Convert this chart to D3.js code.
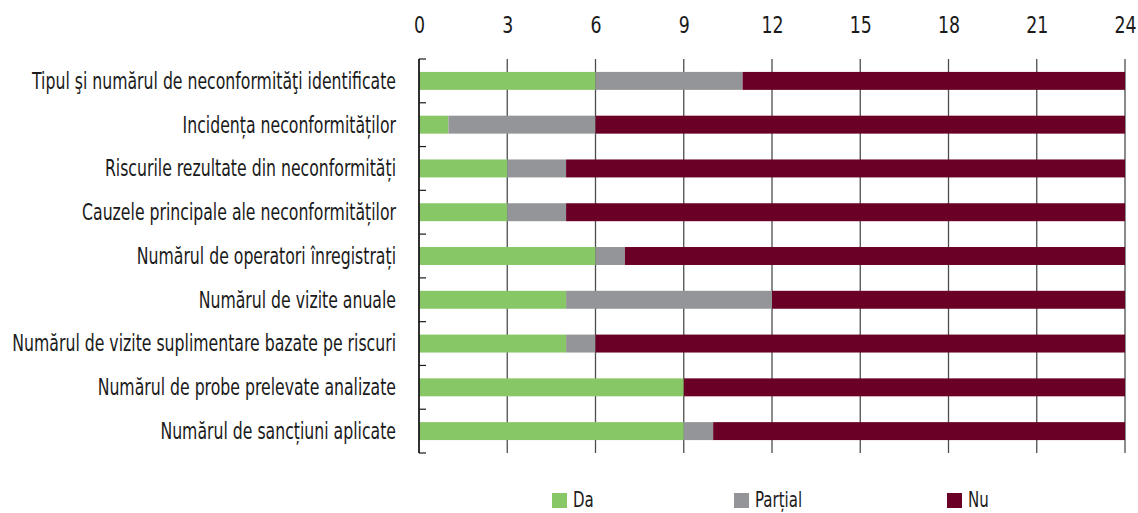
<!DOCTYPE html>
<html>
<head>
<meta charset="utf-8">
<script src="https://cdn.jsdelivr.net/npm/d3@7"></script>
<style>
  body { margin: 0; background: #fff; }
  text { font-family: "DejaVu Sans Condensed", "Liberation Sans Narrow", sans-serif; fill: #1a1a1a; }
</style>
</head>
<body>
<svg id="chart"></svg>
<script>
// date
const categories = [
  "Tipul şi numărul de neconformităţi identificate",
  "Incidența neconformităților",
  "Riscurile rezultate din neconformități",
  "Cauzele principale ale neconformităților",
  "Numărul de operatori înregistrați",
  "Numărul de vizite anuale",
  "Numărul de vizite suplimentare bazate pe riscuri",
  "Numărul de probe prelevate analizate",
  "Numărul de sancțiuni aplicate"
];
const da      = [6, 1, 3, 3, 6, 5, 5, 9, 9];
const partial = [5, 5, 2, 2, 1, 7, 1, 0, 1];
const nu      = [13, 18, 19, 19, 17, 12, 18, 15, 14];
const seriesNames = ["Da", "Parțial", "Nu"];
const tickValues = [0, 3, 6, 9, 12, 15, 18, 21, 24];

const colors = ["#88c766", "#939598", "#6b0026"];

const width = 1138, height = 513;
const margin = { top: 59, right: 13, bottom: 60, left: 419 };
const fontSize = 22.5;

const svg = d3.select('#chart')
  .attr('width', width)
  .attr('height', height);

// fontul original e condensat; calculăm un factor de comprimare orizontală
const probe = svg.append('text')
  .style('font-size', fontSize + 'px')
  .text("Numărul de vizite suplimentare bazate pe riscuri");
const k = 384 / probe.node().getComputedTextLength();
probe.remove();

const rows = categories.map((c, i) => ({ cat: c, Da: da[i], "Parțial": partial[i], Nu: nu[i] }));
const stacked = d3.stack().keys(seriesNames)(rows);

const x = d3.scaleLinear()
  .domain([0, 24])
  .range([margin.left, width - margin.right]);

const y = d3.scaleBand()
  .domain(categories)
  .range([margin.top, height - margin.bottom])
  .paddingInner(0.59)
  .paddingOuter(0.295);

const yBounds = d3.scaleBand()
  .domain(categories)
  .range([margin.top, height - margin.bottom]);

// linii verticale de grilă
svg.append('g')
  .selectAll('line')
  .data(tickValues.slice(1))
  .enter().append('line')
  .attr('x1', d => x(d)).attr('x2', d => x(d))
  .attr('y1', margin.top).attr('y2', height - margin.bottom)
  .attr('stroke', '#4d4d4d')
  .attr('stroke-width', 1.3);

// barele
svg.append('g')
  .selectAll('g')
  .data(stacked)
  .enter().append('g')
  .attr('fill', (d, i) => colors[i])
  .selectAll('rect')
  .data(d => d)
  .enter().append('rect')
  .attr('x', d => x(d[0]))
  .attr('width', d => x(d[1]) - x(d[0]))
  .attr('y', d => y(d.data.cat))
  .attr('height', y.bandwidth());

// axa de sus (etichete)
const xAxis = d3.axisTop(x).tickValues(tickValues).tickSize(0).tickPadding(0);
svg.append('g')
  .attr('transform', 'translate(0,33)')
  .call(xAxis)
  .call(g => g.select('.domain').remove())
  .selectAll('text')
  .attr('transform', 'scale(0.84,1)')
  .style('font-size', '23px')
  .attr('fill', '#1a1a1a');

// axa din stânga
const axisG = svg.append('g');
axisG.append('line')
  .attr('x1', margin.left).attr('x2', margin.left)
  .attr('y1', margin.top).attr('y2', height - margin.bottom)
  .attr('stroke', '#1a1a1a').attr('stroke-width', 1.8);
const bounds = categories.map(c => yBounds(c)).concat([height - margin.bottom]);
axisG.selectAll('.tk')
  .data(bounds)
  .enter().append('line')
  .attr('x1', margin.left).attr('x2', margin.left + 7)
  .attr('y1', d => d).attr('y2', d => d)
  .attr('stroke', '#1a1a1a').attr('stroke-width', 1.2);

axisG.selectAll('.lbl')
  .data(categories)
  .enter().append('text')
  .attr('transform', d => `translate(396,${y(d) + y.bandwidth() / 2}) scale(${k},1)`)
  .attr('dy', '0.35em')
  .attr('text-anchor', 'end')
  .style('font-size', fontSize + 'px')
  .text(d => d);

// legenda
const legendX = [552, 734, 947];
const legend = svg.append('g')
  .selectAll('g')
  .data(seriesNames)
  .enter().append('g')
  .attr('transform', (d, i) => `translate(${legendX[i]},493)`);
legend.append('rect')
  .attr('width', 15).attr('height', 15)
  .attr('fill', (d, i) => colors[i]);
legend.append('text')
  .attr('transform', `translate(21,6.5) scale(${k},1)`)
  .attr('dy', '0.35em')
  .style('font-size', (fontSize - 1) + 'px')
  .text(d => d);
</script>
</body>
</html>
